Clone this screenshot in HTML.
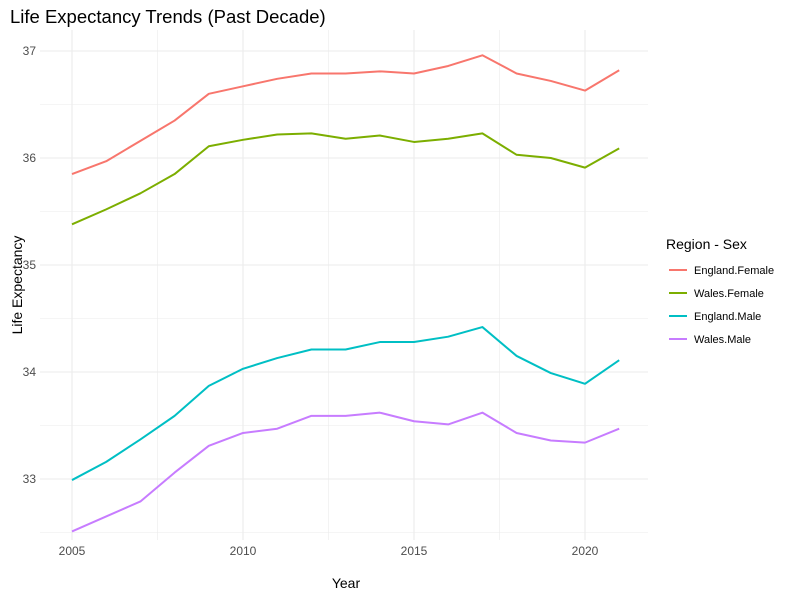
<!DOCTYPE html>
<html><head><meta charset="utf-8"><style>
body{margin:0;background:#fff;}
svg text{font-family:"Liberation Sans",sans-serif;}
</style></head><body>
<svg id="chart" width="800" height="600" xmlns="http://www.w3.org/2000/svg">
<rect width="800" height="600" fill="#fff"/>
<g id="grid"></g>
<g id="lines"></g>
<g id="axes"></g>
<text x="10" y="23" font-size="18.5" fill="#000">Life Expectancy Trends (Past Decade)</text>
<text x="346" y="588" font-size="14" text-anchor="middle" fill="#000">Year</text>
<text transform="translate(22,285) rotate(-90)" font-size="14" text-anchor="middle" fill="#000">Life Expectancy</text>
<g id="legend">
<text x="666" y="249" font-size="14" fill="#000">Region - Sex</text>
</g>
</svg>
<script>
const years=[2005,2006,2007,2008,2009,2010,2011,2012,2013,2014,2015,2016,2017,2018,2019,2020,2021];
const seriesNames=["England.Female","Wales.Female","England.Male","Wales.Male"];
const seriesColors=["#F8766D","#7CAE00","#00BFC4","#C77CFF"];
const englandFemale=[35.85,35.97,36.16,36.35,36.60,36.67,36.74,36.79,36.79,36.81,36.79,36.86,36.96,36.79,36.72,36.63,36.82];
const walesFemale=[35.38,35.52,35.67,35.85,36.11,36.17,36.22,36.23,36.18,36.21,36.15,36.18,36.23,36.03,36.00,35.91,36.09];
const englandMale=[32.99,33.16,33.37,33.59,33.87,34.03,34.13,34.21,34.21,34.28,34.28,34.33,34.42,34.15,33.99,33.89,34.11];
const walesMale=[32.51,32.65,32.79,33.06,33.31,33.43,33.47,33.59,33.59,33.62,33.54,33.51,33.62,33.43,33.36,33.34,33.47];
const xTicks=[2005,2010,2015,2020];
const yTicks=[33,34,35,36,37];

const NS="http://www.w3.org/2000/svg";
const X=v=>72+(v-2005)*(585-72)/15;
const Y=v=>479-(v-33)*(479-51)/4;
const L=40,R=648,T=30,B=540;
function mk(tag,attrs,parent){const e=document.createElementNS(NS,tag);for(const k in attrs)e.setAttribute(k,attrs[k]);parent.appendChild(e);return e;}
const grid=document.getElementById('grid');
for(let v=32.5;v<=37.01;v+=0.5){const y=Y(v);if(y<T||y>B)continue;
 const l=mk('line',{x1:L,x2:R,y1:y,y2:y,stroke:'#ebebeb','stroke-width':Number.isInteger(v)?1.1:0.6},grid);
 
 }
for(let v=2002.5;v<=2022.5;v+=2.5){const x=X(v);if(x<L||x>R)continue;
 const l=mk('line',{x1:x,x2:x,y1:T,y2:B,stroke:'#ebebeb','stroke-width':(v%5===0)?1.1:0.6},grid);
 
 }
const axes=document.getElementById('axes');
xTicks.forEach(t=>{const e=mk('text',{x:X(t),y:555,'font-size':12,fill:'#4d4d4d','text-anchor':'middle'},axes);e.textContent=t;
 
 });
yTicks.forEach(t=>{const e=mk('text',{x:36,y:Y(t)+4,'font-size':12,fill:'#4d4d4d','text-anchor':'end'},axes);e.textContent=t;
 
 });
const allSeries=[englandFemale,walesFemale,englandMale,walesMale];
const lines=document.getElementById('lines');
allSeries.forEach((s,i)=>{const p=mk('polyline',{points:s.map((v,j)=>X(years[j])+','+Y(v)).join(' '),fill:'none',stroke:seriesColors[i],'stroke-width':2,'stroke-linejoin':'round'},lines);
 
 });
const legend=document.getElementById('legend');
seriesNames.forEach((n,i)=>{const y=270+i*23;
 const l=mk('line',{x1:669,x2:687,y1:y,y2:y,stroke:seriesColors[i],'stroke-width':2},legend);
 
 
 const t=mk('text',{x:694,y:y+4,'font-size':11,fill:'#000'},legend);t.textContent=n;
 
 });
</script>
</body></html>
